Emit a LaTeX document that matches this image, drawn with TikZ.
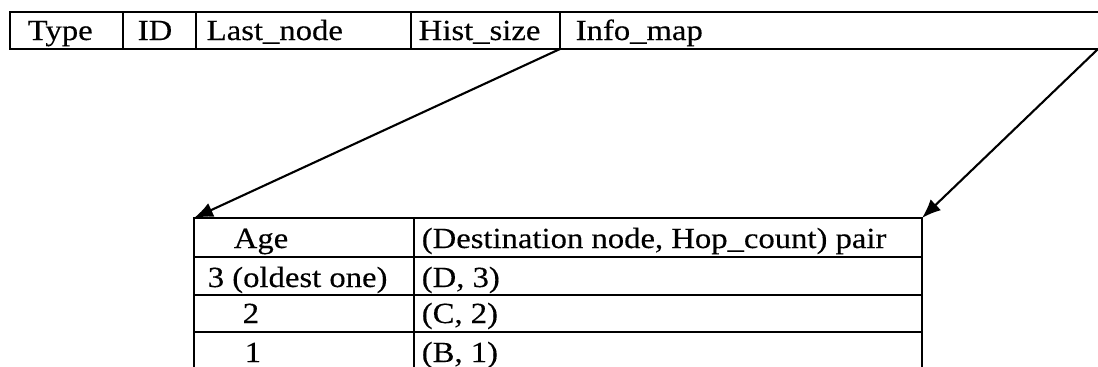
\documentclass[tikz,border=0pt]{standalone}
\usepackage{fontspec}
\setmainfont{Liberation Serif}[FakeStretch=1.12,FakeBold=0.3]
\usetikzlibrary{arrows.meta}

\tikzset{
  field/.style={anchor=base west, inner sep=0pt},
  pointer/.style={-{Latex[length=3.8mm,width=3mm]}, line width=1.2pt}
}

\begin{document}
\begin{tikzpicture}[x=0.2mm,y=-0.2mm,line width=0.9pt,font=\fontsize{16.6}{19}\selectfont]
    \useasboundingbox (0,0) rectangle (1098,367);

    % Packet header fields
    \draw (1098,12) -- (10,12) -- (10,49) -- (1098,49);
    \foreach \x in {123,196,411,560} \draw (\x,12) -- (\x,49);
    \node[field] (type) at (27,40) {Type};
    \node[field] (id) at (137,40) {ID};
    \node[field] (lastnode) at (206,40) {Last\_node};
    \node[field] (histsize) at (418,40) {Hist\_size};
    \node[field] (infomap) at (575,40) {Info\_map};
    \coordinate (mapleft) at (560,49);
    \coordinate (mapright) at (1098,49);

    % History table kept in Info_map
    \draw (194,367) -- (194,218) -- (922,218) -- (922,367);
    \draw (414,218) -- (414,367);
    \foreach \y in {257,295,332} \draw (194,\y) -- (922,\y);
    \node[field] (agehead) at (233,248) {Age};
    \node[field] (pairhead) at (421,248) {(Destination node, Hop\_count) pair};
    \node[field] (age3) at (207,287) {3 (oldest one)};
    \node[field] (pair3) at (421,287) {(D, 3)};
    \node[field] (age2) at (242,323) {2};
    \node[field] (pair2) at (421,323) {(C, 2)};
    \node[field] (age1) at (244,362) {1};
    \node[field] (pair1) at (421,362) {(B, 1)};
    \coordinate (tableleft) at (194,218);
    \coordinate (tableright) at (922,218);

    % Pointers from Info_map down to the table
    \draw[pointer] (mapleft) -- (tableleft);
    \draw[pointer] (mapright) -- (tableright);
\end{tikzpicture}
\end{document}
